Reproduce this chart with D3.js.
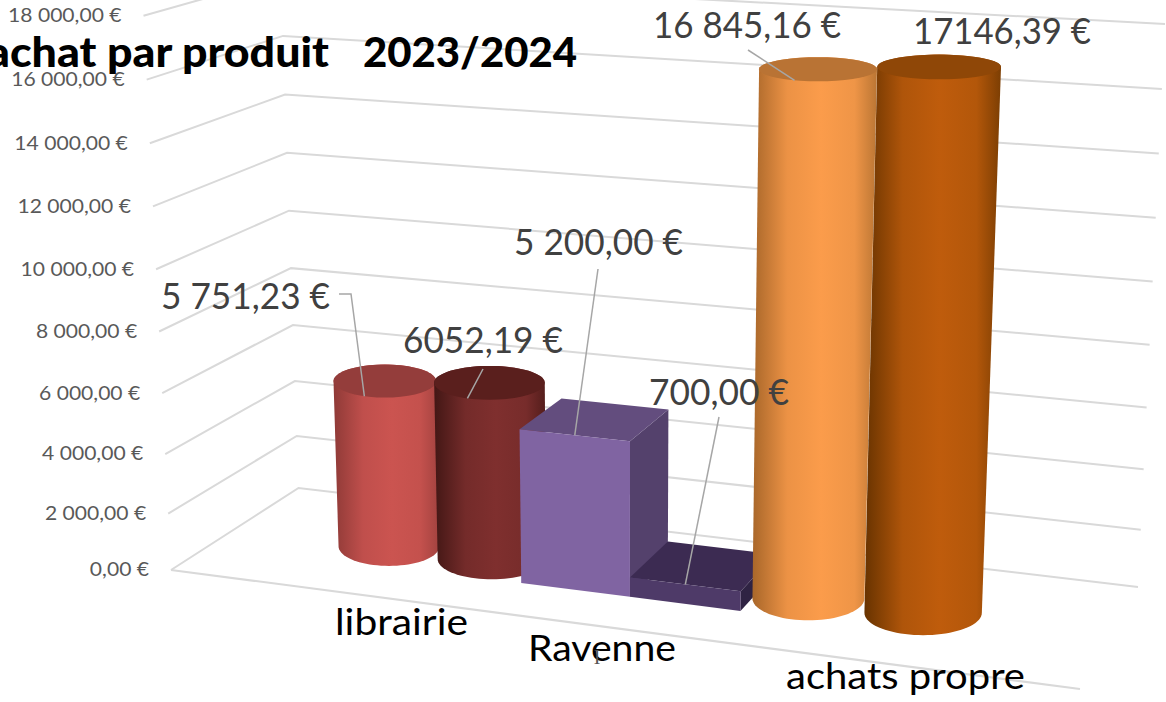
<!DOCTYPE html>
<html>
<head>
<meta charset="utf-8">
<script src="https://d3js.org/d3.v7.min.js"></script>
<style>
html, body { margin: 0; padding: 0; background: #fff; overflow: hidden; }
</style>
</head>
<body>
<div id="chart"></div>
<script>
// values
const categories = ["librairie", "Ravenne", "achats propre"];
const series1 = [5751.23, 5200, 16845.16];
const series2 = [6052.19, 700, 17146.39];
const labels1 = ["5 751,23 €", "5 200,00 €", "16 845,16 €"];
const labels2 = ["6052,19 €", "700,00 €", "17146,39 €"];
const shapes = ["cylinder", "box", "cylinder"];
const yTicks = [0, 2000, 4000, 6000, 8000, 10000, 12000, 14000, 16000, 18000];
const yTickLabels = ["0,00 €", "2 000,00 €", "4 000,00 €", "6 000,00 €", "8 000,00 €", "10 000,00 €", "12 000,00 €", "14 000,00 €", "16 000,00 €", "18 000,00 €"];
const titleParts = ["achat par produit", "2023/2024"];

const width = 1166, height = 702;

// corners of the chart box on screen, bottom at 0 and top at 18000
// order: front left, back left, back right, front right
const floorQuad = [[171, 570], [298.5, 488], [1138, 587], [1080, 689]];
const topQuad = [[143.5, 15.7], [281, -23], [1165, 24], [1108, 79]];

const tScale = d3.scalePow().exponent(1.04).domain([0, 18000]).range([0, 1]);
const uScale = d3.scalePow().exponent(1.05).domain([0, 1]).range([0.118, 0.85]);
const catBand = d3.scaleBand().domain(categories).range([0, 1]);
const serBand = d3.scaleBand().domain([0, 1]).range([0, catBand.bandwidth()]);

function lerp(a, b, t) { return a + (b - a) * t; }

function quadPoint(q, u, w) {
    var fx = lerp(q[0][0], q[3][0], u), fy = lerp(q[0][1], q[3][1], u);
    var bx = lerp(q[1][0], q[2][0], u), by = lerp(q[1][1], q[2][1], u);
    return [lerp(fx, bx, w), lerp(fy, by, w)];
}

// u: along the categories, v: euros, w: depth (0 front, 1 back)
function project(u, v, w) {
    var a = quadPoint(floorQuad, u, w), b = quadPoint(topQuad, u, w), t = tScale(v);
    return [lerp(a[0], b[0], t), lerp(a[1], b[1], t)];
}

const linePath = d3.line();
const depthFront = 0.32, depthBack = 0.72, depthMid = (depthFront + depthBack) / 2;

// cylinders bulge a little past their band, boxes do not
const bandNudge = [[-0.002, 0.002], [0, 0.005], [0, 0], [0, 0], [-0.006, -0.004], [-0.004, 0.003]];

// bars, in drawing order
var bars = [];
categories.forEach(function (c, i) {
    [series1, series2].forEach(function (s, j) {
        var p0 = catBand(c) + serBand(j), n = bandNudge[bars.length];
        bars.push({
            cat: i, ser: j, value: s[i], shape: shapes[i],
            label: (j === 0 ? labels1 : labels2)[i],
            u0: uScale(p0) + n[0], u1: uScale(p0 + serBand.bandwidth()) + n[1]
        });
    });
});

const palette = [
    {edgeL: "#8f3a37", mid: "#cb5450", edgeR: "#a2423f", top: "#943d3b"},
    {edgeL: "#431715", mid: "#7f2f2e", edgeR: "#531d1b", top: "#5a1f1d"},
    {front: "#8064a2", side: "#54416c", top: "#634d7e"},
    {front: "#4e3a68", side: "#2f2343", top: "#3c2b52"},
    {edgeL: "#a9672a", mid: "#fb9c4b", edgeR: "#bb7634", top: "#b97334"},
    {edgeL: "#683300", mid: "#bf5c0c", edgeR: "#7c3e03", top: "#8f4707"}
];

var svg = d3.select("#chart")
    .append("svg")
    .attr("width", width)
    .attr("height", height)
    .style("display", "block");

var defs = svg.append("defs");
palette.forEach(function (p, i) {
    if (!p.mid) return;
    var g = defs.append("linearGradient").attr("id", "cyl" + i);
    g.append("stop").attr("offset", "0%").attr("stop-color", p.edgeL);
    g.append("stop").attr("offset", "28%").attr("stop-color", d3.interpolateRgb(p.edgeL, p.mid)(0.82));
    g.append("stop").attr("offset", "55%").attr("stop-color", p.mid);
    g.append("stop").attr("offset", "82%").attr("stop-color", d3.interpolateRgb(p.edgeR, p.mid)(0.82));
    g.append("stop").attr("offset", "100%").attr("stop-color", p.edgeR);
});

// wall and floor grid lines
svg.append("g")
    .selectAll("path")
    .data(yTicks)
    .enter().append("path")
    .attr("d", function (v) { return linePath([project(0, v, 0), project(0, v, 1), project(1, v, 1)]); })
    .attr("fill", "none")
    .attr("stroke", "#d9d9d9")
    .attr("stroke-width", 2);
svg.append("path")
    .attr("d", linePath([project(0, 0, 0), project(1, 0, 0)]))
    .attr("fill", "none")
    .attr("stroke", "#d9d9d9")
    .attr("stroke-width", 2);

// value axis labels, the original font is wider than it is tall here
svg.append("g")
    .selectAll("text")
    .data(yTicks)
    .enter().append("text")
    .attr("x", function (v) { return project(0, v, 0)[0] - 22; })
    .attr("y", function (v) { return project(0, v, 0)[1]; })
    .attr("dy", "0.35em")
    .attr("text-anchor", "end")
    .attr("font-family", "Lato")
    .attr("font-size", "18.5px")
    .attr("fill", "#595959")
    .text(function (v, i) { return yTickLabels[i]; })
    .each(function () {
        d3.select(this)
            .attr("textLength", this.getComputedTextLength() * 1.14)
            .attr("lengthAdjust", "spacingAndGlyphs");
    });

// horizontal ellipse of a cylinder section at height v
function ellipsePt(b, v, a) {
    var uc = (b.u0 + b.u1) / 2;
    var c = project(uc, v, depthMid);
    var l = project(b.u0, v, depthMid), r = project(b.u1, v, depthMid);
    var dy = 1.15 * (project(uc, v, depthFront)[1] - project(uc, v, depthBack)[1]) / 2;
    return [c[0] + Math.cos(a) * (r[0] - l[0]) / 2, c[1] + Math.sin(a) * dy];
}

function ellipseArc(b, v, from, to) {
    return d3.range(0, 41).map(function (k) {
        return ellipsePt(b, v, from + (to - from) * k / 40);
    });
}

var barG = svg.append("g");
bars.forEach(function (b, i) {
    var p = palette[i];
    if (b.shape === "cylinder") {
        // side: left edge down, front of the bottom ellipse, right edge up
        var lower = ellipseArc(b, 0, Math.PI, 0);
        var upper = ellipseArc(b, b.value, 0, -Math.PI);
        barG.append("path")
            .attr("d", linePath(lower.concat(upper)) + "Z")
            .attr("fill", "url(#cyl" + i + ")");
        barG.append("path")
            .attr("d", linePath(ellipseArc(b, b.value, 0, 2 * Math.PI)) + "Z")
            .attr("fill", p.top);
    } else {
        var faces = [
            {fill: p.side, pts: [project(b.u1, 0, depthFront), project(b.u1, 0, depthBack), project(b.u1, b.value, depthBack), project(b.u1, b.value, depthFront)]},
            {fill: p.top, pts: [project(b.u0, b.value, depthFront), project(b.u0, b.value, depthBack), project(b.u1, b.value, depthBack), project(b.u1, b.value, depthFront)]},
            {fill: p.front, pts: [project(b.u0, 0, depthFront), project(b.u0, b.value, depthFront), project(b.u1, b.value, depthFront), project(b.u1, 0, depthFront)]}
        ];
        faces.forEach(function (f) {
            barG.append("path").attr("d", linePath(f.pts) + "Z").attr("fill", f.fill);
        });
    }
});

// data labels and their leader lines; no leader for the last one
const labelX = [161, 403, 514, 649, 653, 913];
const labelW = [169, 160, 169, 140, 188, 178];
const labelY = [296, 340, 242, 392, 25, 31];
const leaderFrom = [[339, 294, 351, 294], [483, 369], [598, 269], [719, 417], [748, 50], null];

var leaderG = svg.append("g");
bars.forEach(function (b, i) {
    if (!leaderFrom[i]) return;
    var end = b.shape === "cylinder"
        ? ellipsePt(b, b.value, Math.PI / 2 + 0.41)
        : project((b.u0 + b.u1) / 2, b.value, depthFront);
    var pts = [];
    for (var k = 0; k < leaderFrom[i].length; k += 2) pts.push([leaderFrom[i][k], leaderFrom[i][k + 1]]);
    pts.push(end);
    leaderG.append("path")
        .attr("d", linePath(pts))
        .attr("fill", "none")
        .attr("stroke", "#a6a6a6")
        .attr("stroke-width", 1.5);
});

svg.append("g")
    .selectAll("text")
    .data(bars)
    .enter().append("text")
    .attr("x", function (d, i) { return labelX[i]; })
    .attr("y", function (d, i) { return labelY[i]; })
    .attr("dy", "0.35em")
    .attr("font-family", "Lato")
    .attr("font-size", "36px")
    .attr("textLength", function (d, i) { return labelW[i]; })
    .attr("lengthAdjust", "spacingAndGlyphs")
    .attr("fill", "#404040")
    .text(function (d) { return d.label; });

// category labels
const catLabelX = [335, 528, 786];
const catLabelW = [133, 148, 239];
const catLabelY = [622, 648, 676];
svg.append("g")
    .selectAll("text")
    .data(categories)
    .enter().append("text")
    .attr("x", function (d, i) { return catLabelX[i]; })
    .attr("y", function (d, i) { return catLabelY[i]; })
    .attr("dy", "0.35em")
    .attr("font-family", "Lato")
    .attr("font-size", "36px")
    .attr("textLength", function (d, i) { return catLabelW[i]; })
    .attr("lengthAdjust", "spacingAndGlyphs")
    .attr("fill", "#000")
    .text(function (d) { return d; });

// title, runs off the left edge like the original
const titleX = [-13, 363];
const titleW = [342, 214];
svg.append("g")
    .selectAll("text")
    .data(titleParts)
    .enter().append("text")
    .attr("x", function (d, i) { return titleX[i]; })
    .attr("y", 67)
    .attr("font-family", "Lato")
    .attr("font-size", "41px")
    .attr("font-weight", "900")
    .attr("textLength", function (d, i) { return titleW[i]; })
    .attr("lengthAdjust", "spacingAndGlyphs")
    .attr("fill", "#000")
    .text(function (d) { return d; });

// stray text cursor under "Ravenne"
svg.append("text")
    .attr("x", 597)
    .attr("y", 664)
    .attr("text-anchor", "middle")
    .attr("font-family", "Liberation Serif")
    .attr("font-size", "20px")
    .attr("fill", "#555")
    .text("I");
</script>
</body>
</html>
